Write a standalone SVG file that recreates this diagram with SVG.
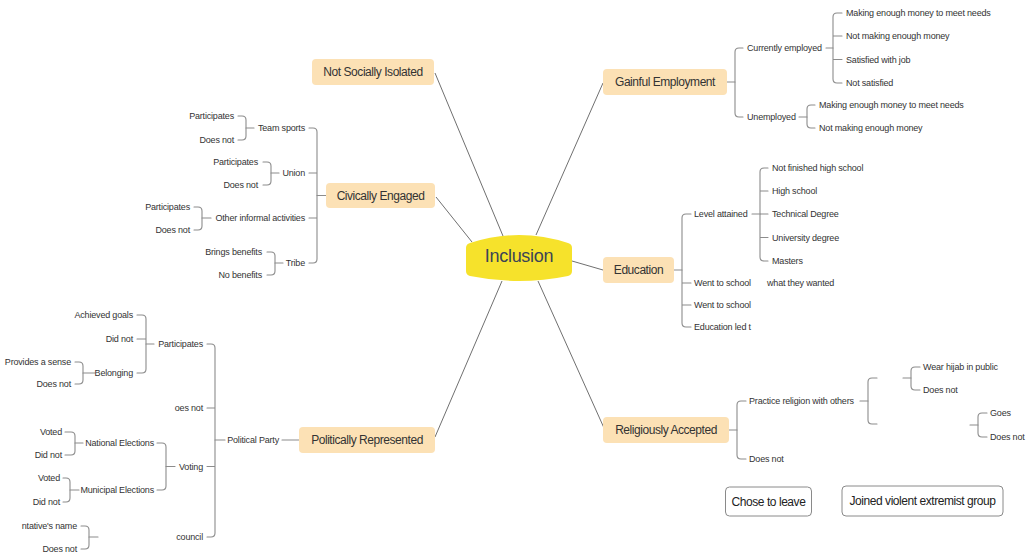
<svg xmlns="http://www.w3.org/2000/svg" width="1033" height="556" viewBox="0 0 1033 556">
  <style>
    .bg { fill: #ffffff; }
    .spoke { stroke: #707070; stroke-width: 1; fill: none; }
    .br { stroke: #8c8c8c; stroke-width: 1.1; fill: none; stroke-linecap: round; }
    .topic rect { fill: #fce1b5; }
    .topic text { font-family: "Liberation Sans", Arial, sans-serif; font-size: 12px; letter-spacing: -0.45px; fill: #333333; text-anchor: middle; dominant-baseline: central; }
    .box rect { fill: #ffffff; stroke: #8a8a8a; stroke-width: 1; }
    .box text { font-family: "Liberation Sans", Arial, sans-serif; font-size: 12px; letter-spacing: -0.45px; fill: #222222; text-anchor: middle; dominant-baseline: central; }
    .lbl { font-family: "Liberation Sans", Arial, sans-serif; font-size: 9px; letter-spacing: -0.18px; fill: #333333; dominant-baseline: central; }
    .end { text-anchor: end; }
    .root text { font-family: "Liberation Sans", Arial, sans-serif; font-size: 18px; letter-spacing: -0.3px; fill: #3b4456; text-anchor: middle; dominant-baseline: central; }
  </style>

  <rect class="bg" x="0" y="0" width="1033" height="556"/>

  <!-- spokes from the root and all bracket connectors -->
  <g id="connectors">
    <path class="spoke" d="M503 236 L435 73"/>
    <path class="spoke" d="M472 242 L436 197"/>
    <path class="spoke" d="M536 235 L603 83"/>
    <path class="spoke" d="M572 261 L603 270"/>
    <path class="spoke" d="M538 281 L604 428"/>
    <path class="spoke" d="M502 281 L435 437"/>

    <!-- right side: Gainful Employment -->
    <path class="br" d="M727 82 H735"/>
    <path class="br" d="M743 48 H739 Q735 48 735 52 V113 Q735 117 739 117 H743"/>
    <path class="br" d="M826 48 H833"/>
    <path class="br" d="M842 13 H837 Q833 13 833 17 V79 Q833 83 837 83 H842 M833 36 H842 M833 59.5 H842"/>
    <path class="br" d="M799 117 H807"/>
    <path class="br" d="M815 105 H811 Q807 105 807 109 V124 Q807 128 811 128 H815"/>

    <!-- right side: Education -->
    <path class="br" d="M674 270 H682"/>
    <path class="br" d="M691 214 H686 Q682 214 682 218 V323 Q682 327 686 327 H691 M682 283 H691 M682 305 H691"/>
    <path class="br" d="M752 214 H760"/>
    <path class="br" d="M768 168 H764 Q760 168 760 172 V257 Q760 261 764 261 H768 M760 191 H768 M760 214 H768 M760 237.5 H768"/>

    <!-- right side: Religiously Accepted -->
    <path class="br" d="M729 430 H737"/>
    <path class="br" d="M746 401 H741 Q737 401 737 405 V455 Q737 459 741 459 H746"/>
    <path class="br" d="M860 401 H868"/>
    <path class="br" d="M877 378 H872 Q868 378 868 382 V420 Q868 424 872 424 H877"/>
    <path class="br" d="M903 378 H911"/>
    <path class="br" d="M920 367 H915 Q911 367 911 371 V386 Q911 390 915 390 H920"/>
    <path class="br" d="M970 425 H978"/>
    <path class="br" d="M987 413 H982 Q978 413 978 417 V433 Q978 437 982 437 H987"/>

    <!-- left side: Civically Engaged -->
    <path class="br" d="M326 195.5 H317"/>
    <path class="br" d="M309 128 H313 Q317 128 317 132 V259 Q317 263 313 263 H309 M317 173 H309 M317 218 H309"/>
    <path class="br" d="M254 128 H246"/>
    <path class="br" d="M238 116 H242 Q246 116 246 120 V136 Q246 140 242 140 H238"/>
    <path class="br" d="M279 173 H271"/>
    <path class="br" d="M263 162 H267 Q271 162 271 166 V181 Q271 185 267 185 H263"/>
    <path class="br" d="M211 218 H202"/>
    <path class="br" d="M194 207 H198 Q202 207 202 211 V226 Q202 230 198 230 H194"/>
    <path class="br" d="M283 263 H275"/>
    <path class="br" d="M267 252 H271 Q275 252 275 256 V271 Q275 275 271 275 H267"/>

    <!-- left side: Politically Represented -->
    <path class="br" d="M299 440 H282"/>
    <path class="br" d="M225 440 H215"/>
    <path class="br" d="M207 344 H211 Q215 344 215 348 V533 Q215 537 211 537 H207 M215 408 H207 M215 466.5 H207"/>
    <path class="br" d="M154 344 H146"/>
    <path class="br" d="M137 315 H142 Q146 315 146 319 V369 Q146 373 142 373 H137 M146 339 H137"/>
    <path class="br" d="M95 373 H83"/>
    <path class="br" d="M75 362 H79 Q83 362 83 366 V380 Q83 384 79 384 H75"/>
    <path class="br" d="M175 466.5 H166"/>
    <path class="br" d="M157 443 H162 Q166 443 166 447 V486 Q166 490 162 490 H157"/>
    <path class="br" d="M83 443 H75"/>
    <path class="br" d="M65 432 H71 Q75 432 75 436 V451 Q75 455 71 455 H65"/>
    <path class="br" d="M79 490 H70"/>
    <path class="br" d="M63 478 H66 Q70 478 70 482 V498 Q70 502 66 502 H63"/>
    <path class="br" d="M98 537 H89"/>
    <path class="br" d="M81 526 H85 Q89 526 89 530 V545 Q89 549 85 549 H81"/>
  </g>

  <!-- root -->
  <g id="inclusion" class="root">
    <path d="M470 243 Q519 227 568 243 Q572 244 572 248 V271 Q572 275 568 276 Q519 286 470 276 Q466 275 466 271 V248 Q466 244 470 243 Z" fill="#f6e22b"/>
    <text x="519" y="256">Inclusion</text>
  </g>

  <!-- main topics -->
  <g id="not-socially-isolated" class="topic">
    <rect x="312" y="59" width="122" height="26" rx="4"/>
    <text x="373" y="72">Not Socially Isolated</text>
  </g>
  <g id="civically-engaged" class="topic">
    <rect x="326" y="183" width="109" height="25" rx="4"/>
    <text x="380.5" y="195.5">Civically Engaged</text>
  </g>
  <g id="gainful-employment" class="topic">
    <rect x="603" y="69" width="124" height="26" rx="4"/>
    <text x="665" y="82">Gainful Employment</text>
  </g>
  <g id="education" class="topic">
    <rect x="603" y="257" width="71" height="26" rx="4"/>
    <text x="638.5" y="270">Education</text>
  </g>
  <g id="religiously-accepted" class="topic">
    <rect x="603" y="417" width="126" height="26" rx="4"/>
    <text x="666" y="430">Religiously Accepted</text>
  </g>
  <g id="politically-represented" class="topic">
    <rect x="299" y="427" width="136" height="26" rx="4"/>
    <text x="367" y="440">Politically Represented</text>
  </g>

  <!-- floating outcome boxes -->
  <g id="chose-to-leave" class="box">
    <rect x="725.5" y="487" width="86" height="29" rx="4"/>
    <text x="768.5" y="501.5">Chose to leave</text>
  </g>
  <g id="joined-group" class="box">
    <rect x="842" y="486" width="161" height="30" rx="4"/>
    <text x="922.5" y="501">Joined violent extremist group</text>
  </g>

  <!-- Gainful Employment branch -->
  <g id="employment-labels">
    <text class="lbl" x="747" y="48">Currently employed</text>
    <text class="lbl" x="846" y="13">Making enough money to meet needs</text>
    <text class="lbl" x="846" y="36">Not making enough money</text>
    <text class="lbl" x="846" y="59.5">Satisfied with job</text>
    <text class="lbl" x="846" y="83">Not satisfied</text>
    <text class="lbl" x="747" y="117">Unemployed</text>
    <text class="lbl" x="819" y="105">Making enough money to meet needs</text>
    <text class="lbl" x="819" y="128">Not making enough money</text>
  </g>

  <!-- Education branch -->
  <g id="education-labels">
    <text class="lbl" x="694" y="214">Level attained</text>
    <text class="lbl" x="772" y="168">Not finished high school</text>
    <text class="lbl" x="772" y="191">High school</text>
    <text class="lbl" x="772" y="214">Technical Degree</text>
    <text class="lbl" x="772" y="237.5">University degree</text>
    <text class="lbl" x="772" y="261">Masters</text>
    <text class="lbl" x="694" y="283">Went to school</text>
    <text class="lbl" x="767" y="283">what they wanted</text>
    <text class="lbl" x="694" y="305">Went to school</text>
    <text class="lbl" x="694" y="327">Education led t</text>
  </g>

  <!-- Religiously Accepted branch -->
  <g id="religion-labels">
    <text class="lbl" x="749" y="401">Practice religion with others</text>
    <text class="lbl" x="749" y="459">Does not</text>
    <text class="lbl" x="923" y="367">Wear hijab in public</text>
    <text class="lbl" x="923" y="390">Does not</text>
    <text class="lbl" x="990" y="413">Goes</text>
    <text class="lbl" x="990" y="437">Does not</text>
  </g>

  <!-- Civically Engaged branch -->
  <g id="civic-labels">
    <text class="lbl end" x="305" y="128">Team sports</text>
    <text class="lbl end" x="234" y="116">Participates</text>
    <text class="lbl end" x="234" y="140">Does not</text>
    <text class="lbl end" x="305" y="173">Union</text>
    <text class="lbl end" x="258" y="162">Participates</text>
    <text class="lbl end" x="258" y="185">Does not</text>
    <text class="lbl end" x="305" y="218">Other informal activities</text>
    <text class="lbl end" x="190" y="207">Participates</text>
    <text class="lbl end" x="190" y="230">Does not</text>
    <text class="lbl end" x="305" y="263">Tribe</text>
    <text class="lbl end" x="262" y="252">Brings benefits</text>
    <text class="lbl end" x="262" y="275">No benefits</text>
  </g>

  <!-- Politically Represented branch -->
  <g id="political-labels">
    <text class="lbl end" x="279" y="440">Political Party</text>
    <text class="lbl end" x="203" y="344">Participates</text>
    <text class="lbl end" x="133" y="315">Achieved goals</text>
    <text class="lbl end" x="133" y="339">Did not</text>
    <text class="lbl end" x="133" y="373">Belonging</text>
    <text class="lbl end" x="71" y="362">Provides a sense</text>
    <text class="lbl end" x="71" y="384">Does not</text>
    <text class="lbl end" x="203" y="408">oes not</text>
    <text class="lbl end" x="203" y="466.5">Voting</text>
    <text class="lbl end" x="154" y="443">National Elections</text>
    <text class="lbl end" x="62" y="432">Voted</text>
    <text class="lbl end" x="62" y="455">Did not</text>
    <text class="lbl end" x="154" y="490">Municipal Elections</text>
    <text class="lbl end" x="60" y="478">Voted</text>
    <text class="lbl end" x="60" y="502">Did not</text>
    <text class="lbl end" x="203" y="537">council</text>
    <text class="lbl end" x="77" y="526">ntative's name</text>
    <text class="lbl end" x="77" y="549">Does not</text>
  </g>
</svg>
